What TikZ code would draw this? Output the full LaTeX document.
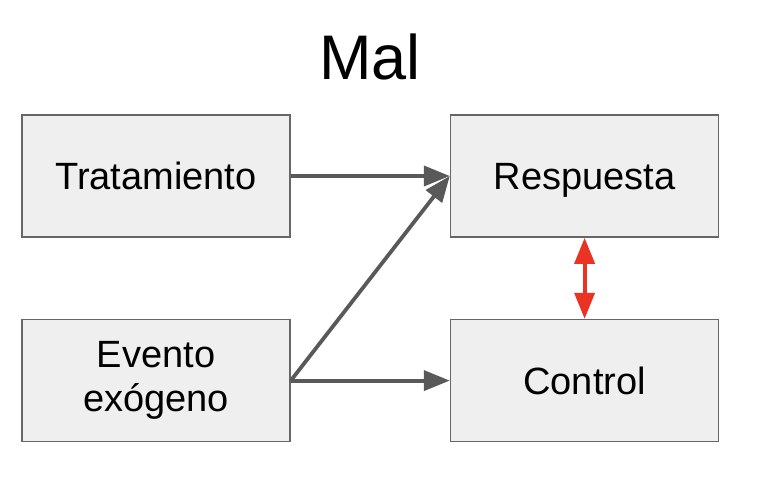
\documentclass[tikz,border=0pt]{standalone}
\usepackage{fontspec}
\setmainfont{Liberation Sans}
\usepackage{tikz}
\usetikzlibrary{arrows.meta}
\usetikzlibrary{positioning}
\definecolor{cajafondo}{HTML}{EFEFEF}
\definecolor{cajaborde}{HTML}{666666}
\definecolor{flecha}{HTML}{595959}
\definecolor{rojo}{HTML}{EA3323}
\tikzset{
    caja/.style = {draw=cajaborde, fill=cajafondo, line width=1.6pt,
                 minimum width=268pt, minimum height=122pt, align=center,
                 font=\fontsize{38pt}{44pt}\selectfont},
}

\begin{document}
\begin{tikzpicture}[>={Triangle[length=26pt,width=20pt]}]
 \useasboundingbox (0pt,0pt) rectangle (762pt,-476pt);
 \node (titulo) [anchor=base, font=\fontsize{63pt}{70pt}\selectfont] at (370pt,-80pt) {Mal};
 \node (trat) [caja] at (156pt,-176pt) {Tratamiento};
 \node (resp) [caja, text depth=0pt, right=159pt of trat] {Respuesta};
 \node (ev) [caja, below=81pt of trat] {Evento\\exógeno};
 \node (ctrl) [caja, below=81pt of resp] {Control};

 \draw[->, flecha, line width=3.8pt] (trat) -- (resp);
 \draw[->, flecha, line width=3.8pt] (ev.east) -- (resp.west);
 \draw[->, flecha, line width=3.8pt] (ev) -- (ctrl);
 \draw[<->, rojo, line width=3.8pt] (resp) -- (ctrl);
\end{tikzpicture}
\end{document}
